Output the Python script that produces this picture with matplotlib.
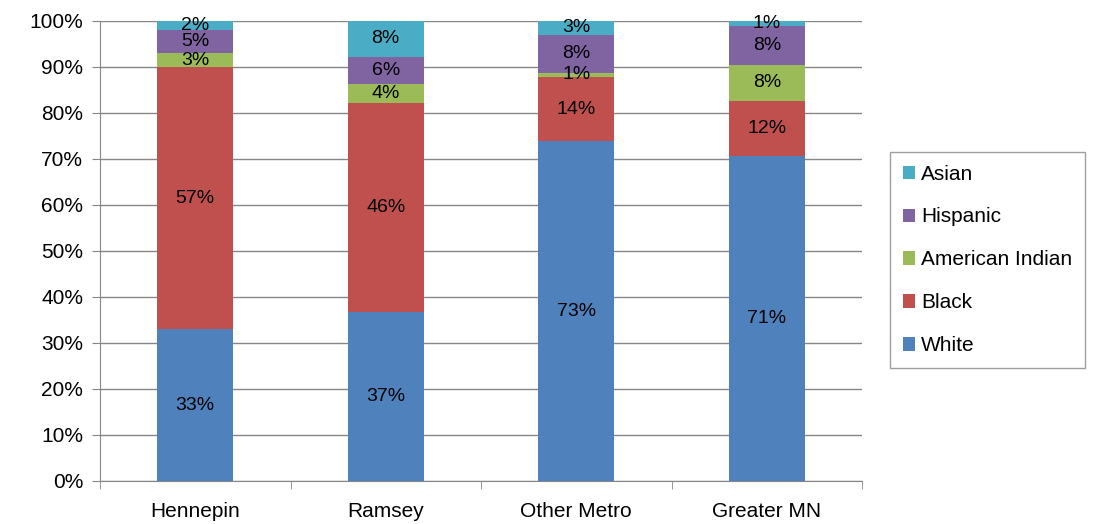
import matplotlib.pyplot as plt
import numpy as np

plt.rcParams['font.family'] = ['Liberation Sans', 'DejaVu Sans']

regions = ['Hennepin', 'Ramsey', 'Other Metro', 'Greater MN']
groups = ['White', 'Black', 'American Indian', 'Hispanic', 'Asian']
colors = ['#4F81BD', '#C0504D', '#9BBB59', '#8064A2', '#4BACC6']

# shares (percent) per group, per region
white = [33.0, 36.7, 73.9, 70.7]
black = [57.0, 45.5, 13.9, 11.9]
amind = [3.0, 4.0, 1.0, 7.9]
hisp = [5.0, 6.0, 8.2, 8.4]
asian = [2.0, 7.8, 3.0, 1.1]
values = [white, black, amind, hisp, asian]

labels_white = ['33%', '37%', '73%', '71%']
labels_black = ['57%', '46%', '14%', '12%']
labels_amind = ['3%', '4%', '1%', '8%']
labels_hisp = ['5%', '6%', '8%', '8%']
labels_asian = ['2%', '8%', '3%', '1%']
labels = [labels_white, labels_black, labels_amind, labels_hisp, labels_asian]

fig = plt.figure(figsize=(11.14, 5.24), dpi=100)
ax = fig.add_axes([100/1114, 1-481/524, 762/1114, 460/524])

x = np.arange(len(regions))
bottom = np.zeros(len(regions))
handles = []
for vals, labs, name, c in zip(values, labels, groups, colors):
    vals = np.array(vals) / 100
    h = ax.bar(x, vals, 0.4, bottom=bottom, color=c, label=name, zorder=3)
    handles.append(h)
    for xi, b, v, t in zip(x, bottom, vals, labs):
        ax.text(xi, b + v / 2, t, ha='center', va='center', fontsize=14, zorder=4)
    bottom += vals

ax.set_xlim(-0.5, 3.5)
ax.set_ylim(0, 1)
ax.set_yticks(np.arange(0, 1.01, 0.1))
ax.set_yticklabels([f'{int(round(v*100))}%' for v in np.arange(0, 1.01, 0.1)], fontsize=15)
ax.set_xticks(x)
ax.set_xticklabels(regions, fontsize=15)
ax.set_xticks(np.arange(-0.5, 3.6, 1), minor=True)
ax.tick_params(axis='x', which='major', length=0, pad=15)
ax.tick_params(axis='x', which='minor', length=6, direction='out', color='#868686')
ax.tick_params(axis='y', length=6, direction='out', color='#868686', pad=6)
ax.grid(axis='y', color='#868686', linewidth=1, zorder=0)
for s in ['top', 'right']:
    ax.spines[s].set_visible(False)
for s in ['left', 'bottom']:
    ax.spines[s].set_color('#868686')

leg = fig.legend(handles[::-1], groups[::-1], loc='upper left', bbox_to_anchor=(890/1114, 1-152/524),
                 fontsize=15, frameon=True, fancybox=False, edgecolor='#868686',
                 handlelength=0.6, handleheight=0.6, handletextpad=0.3, labelspacing=1.15,
                 borderpad=0.6, borderaxespad=0)
leg.get_frame().set_linewidth(1)

fig.savefig('out.png', dpi=100)
